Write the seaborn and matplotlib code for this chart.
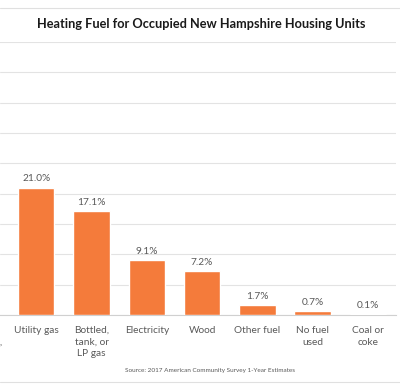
import matplotlib
matplotlib.use("Agg")
import matplotlib.pyplot as plt
from matplotlib.lines import Line2D
import seaborn as sns

fuels = ["Fuel oil,\nkerosene,\netc.", "Utility gas", "Bottled,\ntank, or\nLP gas",
         "Electricity", "Wood", "Other fuel", "No fuel\nused", "Coal or\ncoke"]
shares = [43.0, 21.0, 17.1, 9.1, 7.2, 1.7, 0.7, 0.1]
y_ticks = [0, 5, 10, 15, 20, 25, 30, 35, 40, 45]

BAR = "#F47B3B"
GREY = "#595959"

sns.set_theme(style="white")
plt.rcParams["font.family"] = ["Lato", "DejaVu Sans"]

fig = plt.figure(figsize=(4.0, 3.92), dpi=100)
# the source picture is cropped, so the axes run past the left edge
ax = fig.add_axes([-0.1168, 0.1964, 1.106, 0.6964])

sns.barplot(x=fuels, y=shares, color=BAR, saturation=1, width=0.66, ax=ax, zorder=3)

ax.set_ylim(0, 45)
ax.set_yticks(y_ticks)
ax.set_xlim(-0.5, len(fuels) - 0.5)
ax.yaxis.grid(True, color="#E3E3E3", linewidth=0.8, zorder=0)
ax.tick_params(axis="y", left=False, labelleft=False)
ax.tick_params(axis="x", bottom=False, labelsize=7.3, labelcolor=GREY, pad=2)
for lab in ax.get_xticklabels():
    lab.set_linespacing(1.35)
for side in ["top", "right", "left"]:
    ax.spines[side].set_visible(False)
ax.spines["bottom"].set_color("#D0D0D0")
ax.spines["bottom"].set_linewidth(0.8)

ax.bar_label(ax.containers[0], fmt="{:.1f}%", padding=3, fontsize=7.3, color=GREY)

fig.text(0.504, 0.938, "Heating Fuel for Occupied New Hampshire Housing Units",
         ha="center", va="center", fontsize=9.2, fontweight="bold", color="#1a1a1a")
fig.text(0.525, 0.056, "Source: 2017 American Community Survey 1-Year Estimates",
         ha="center", va="center", fontsize=4.6, color=GREY)

for y in [1 - 8 / 392, 1 - 382 / 392]:
    fig.add_artist(Line2D([0, 1], [y, y], color="#E0E0E0", linewidth=0.8))

fig.savefig("out.png", dpi=100)
